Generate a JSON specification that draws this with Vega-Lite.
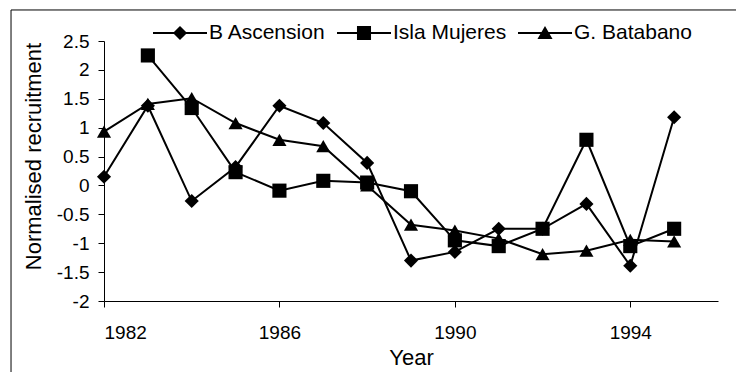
{
  "$schema": "https://vega.github.io/schema/vega-lite/v6.json",
  "width": 614,
  "height": 260,
  "autosize": "none",
  "padding": {"left": 104, "top": 41, "right": 18, "bottom": 71},
  "background": "white",
  "config": {
    "font": "Liberation Sans",
    "view": {"stroke": null},
    "axis": {"grid": false, "domainColor": "black", "tickColor": "black", "labelColor": "black", "titleColor": "black", "titleFontWeight": "normal", "domainWidth": 1, "tickWidth": 1, "labelOverlap": false}
  },
  "data": {"values": [
    {"year": 1982, "series": "B Ascension", "value": 0.15},
    {"year": 1983, "series": "B Ascension", "value": 1.38},
    {"year": 1984, "series": "B Ascension", "value": -0.27},
    {"year": 1985, "series": "B Ascension", "value": 0.32},
    {"year": 1986, "series": "B Ascension", "value": 1.38},
    {"year": 1987, "series": "B Ascension", "value": 1.08},
    {"year": 1988, "series": "B Ascension", "value": 0.39},
    {"year": 1989, "series": "B Ascension", "value": -1.3},
    {"year": 1990, "series": "B Ascension", "value": -1.15},
    {"year": 1991, "series": "B Ascension", "value": -0.75},
    {"year": 1992, "series": "B Ascension", "value": -0.75},
    {"year": 1993, "series": "B Ascension", "value": -0.32},
    {"year": 1994, "series": "B Ascension", "value": -1.39},
    {"year": 1995, "series": "B Ascension", "value": 1.18},
    {"year": 1983, "series": "Isla Mujeres", "value": 2.25},
    {"year": 1984, "series": "Isla Mujeres", "value": 1.34},
    {"year": 1985, "series": "Isla Mujeres", "value": 0.23},
    {"year": 1986, "series": "Isla Mujeres", "value": -0.09},
    {"year": 1987, "series": "Isla Mujeres", "value": 0.08},
    {"year": 1988, "series": "Isla Mujeres", "value": 0.05},
    {"year": 1989, "series": "Isla Mujeres", "value": -0.1},
    {"year": 1990, "series": "Isla Mujeres", "value": -0.95},
    {"year": 1991, "series": "Isla Mujeres", "value": -1.05},
    {"year": 1992, "series": "Isla Mujeres", "value": -0.75},
    {"year": 1993, "series": "Isla Mujeres", "value": 0.79},
    {"year": 1994, "series": "Isla Mujeres", "value": -1.05},
    {"year": 1995, "series": "Isla Mujeres", "value": -0.75},
    {"year": 1982, "series": "G. Batabano", "value": 0.93},
    {"year": 1983, "series": "G. Batabano", "value": 1.41},
    {"year": 1984, "series": "G. Batabano", "value": 1.51},
    {"year": 1985, "series": "G. Batabano", "value": 1.08},
    {"year": 1986, "series": "G. Batabano", "value": 0.79},
    {"year": 1987, "series": "G. Batabano", "value": 0.68},
    {"year": 1988, "series": "G. Batabano", "value": 0.0},
    {"year": 1989, "series": "G. Batabano", "value": -0.68},
    {"year": 1990, "series": "G. Batabano", "value": -0.78},
    {"year": 1991, "series": "G. Batabano", "value": -0.92},
    {"year": 1992, "series": "G. Batabano", "value": -1.19},
    {"year": 1993, "series": "G. Batabano", "value": -1.13},
    {"year": 1994, "series": "G. Batabano", "value": -0.94},
    {"year": 1995, "series": "G. Batabano", "value": -0.97}
  ]},
  "layer": [
    {
      "data": {"values": [{"frame": "border"}]},
      "mark": {"type": "rect", "clip": false, "fillOpacity": 0, "stroke": "black", "strokeWidth": 1},
      "encoding": {
        "x": {"datum": 1979.88, "type": "quantitative", "scale": {"domain": [1982, 1996], "nice": false, "zero": false}},
        "x2": {"datum": 1999},
        "y": {"datum": 3.037, "type": "quantitative", "scale": {"domain": [-2, 2.5], "nice": false, "zero": false}},
        "y2": {"datum": -3.5}
      }
    },
    {
      "mark": {"type": "line", "color": "black", "strokeWidth": 2},
      "encoding": {
        "x": {"field": "year", "type": "quantitative", "scale": {"domain": [1982, 1996], "nice": false, "zero": false},
          "axis": {"values": [1982, 1986, 1990, 1994], "format": "d", "tickSize": 6, "labelFontSize": 19, "labelPadding": 16, "title": "Year", "titleFontSize": 22, "titlePadding": 5}},
        "y": {"field": "value", "type": "quantitative", "scale": {"domain": [-2, 2.5], "nice": false, "zero": false},
          "axis": {"values": [-2, -1.5, -1, -0.5, 0, 0.5, 1, 1.5, 2, 2.5], "labelExpr": "datum.value < 0 ? '-' + format(-datum.value, '~g') : format(datum.value, '~g')", "labelOverlap": false, "labelBound": false, "labelFlush": false, "tickCount": 10, "tickSize": 6, "labelFontSize": 19, "labelPadding": 9, "title": "Normalised recruitment", "titleFontSize": 22, "titleX": -71, "titleY": 115, "titleBaseline": "middle", "titleAngle": 270}},
        "detail": {"field": "series"}
      }
    },
    {
      "mark": {"type": "point", "filled": true, "color": "black", "opacity": 1, "size": 200},
      "encoding": {
        "x": {"field": "year", "type": "quantitative", "scale": {"domain": [1982, 1996], "nice": false, "zero": false}},
        "y": {"field": "value", "type": "quantitative", "scale": {"domain": [-2, 2.5], "nice": false, "zero": false}},
        "shape": {"field": "series", "type": "nominal",
          "scale": {"domain": ["B Ascension", "Isla Mujeres", "G. Batabano"], "range": ["diamond", "square", "triangle-up"]},
          "legend": null
        }
      }
    },
    {
      "mark": {"type": "point", "filled": true, "color": "black", "opacity": 1, "size": 0, "strokeWidth": 0},
      "encoding": {
        "x": {"field": "year", "type": "quantitative", "scale": {"domain": [1982, 1996], "nice": false, "zero": false}},
        "y": {"field": "value", "type": "quantitative", "scale": {"domain": [-2, 2.5], "nice": false, "zero": false}},
        "shape": {"field": "series", "type": "nominal",
          "scale": {"domain": ["B Ascension", "Isla Mujeres", "G. Batabano"],
            "range": [
              "M-1,-0.037H1V0.037H-1Z M0,-0.26L0.26,0L0,0.26L-0.26,0Z",
              "M-1,-0.037H1V0.037H-1Z M-0.26,-0.26H0.26V0.26H-0.26Z",
              "M-1,-0.037H1V0.037H-1Z M0,-0.26L0.28,0.22H-0.28Z"
            ]},
          "legend": {
            "orient": "none", "legendX": 49, "legendY": -35, "direction": "horizontal", "title": null,
            "symbolSize": 2916, "labelFontSize": 21, "labelOffset": 2, "columnPadding": 11, "padding": 0,
            "labelColor": "black", "symbolFillColor": "black", "symbolStrokeWidth": 0
          }
        }
      }
    }
  ],
  "resolve": {"scale": {"shape": "independent"}}
}
